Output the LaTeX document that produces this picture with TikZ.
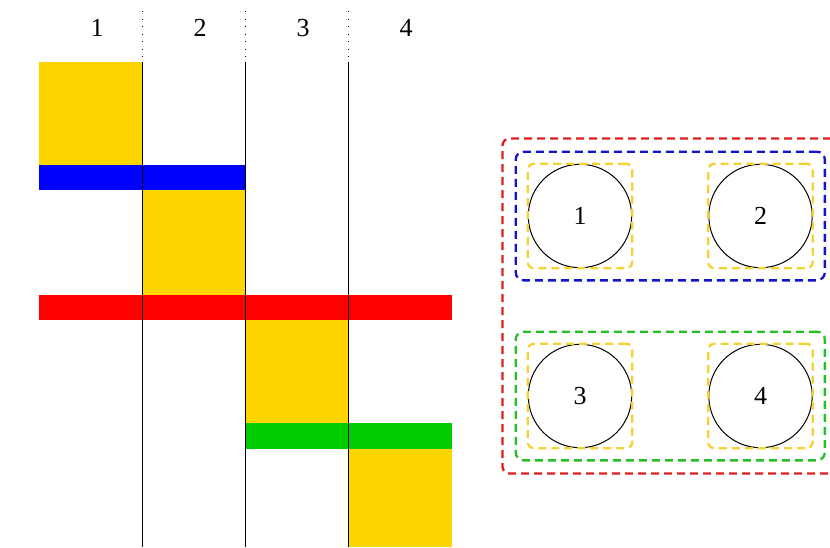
\documentclass[tikz,border=0pt]{standalone}
\usepackage{fontspec}
\setmainfont{Liberation Serif}
\usetikzlibrary{fit}
\definecolor{fillyellow}{RGB}{255,213,0}
\definecolor{fillblue}{RGB}{0,0,255}
\definecolor{fillred}{RGB}{255,0,0}
\definecolor{fillgreen}{RGB}{0,204,0}
\definecolor{dashred}{RGB}{220,30,30}
\definecolor{dashblue}{RGB}{20,20,200}
\definecolor{dashgreen}{RGB}{40,190,40}
\definecolor{dashyellow}{RGB}{245,210,50}
\tikzset{
  lbl/.style={font=\fontsize{26}{30}\selectfont, inner sep=0pt},
  colline/.style={draw=black, line width=1.1pt},
  coldots/.style={draw=black, line width=1.2pt, dash pattern=on 1.2pt off 6.3pt},
  ball/.style={circle, draw=black, line width=1pt, minimum size=103.4pt, inner sep=0pt, font=\fontsize{26}{30}\selectfont},
  grp/.style={draw, line width=2.3pt, dash pattern=on 8pt off 5pt},
  ybox/.style={grp, draw=dashyellow, rounded corners=6pt, inner sep=0pt},
  bbox/.style={grp, rounded corners=8pt, inner sep=11pt},
  rbox/.style={grp, draw=dashred, rounded corners=7pt, inner sep=12pt},
}
\begin{document}
\begin{tikzpicture}[x=1pt,y=-1pt]
\useasboundingbox (0,0) rectangle (830,547);
\begin{scope}
\clip (0,0) rectangle (830,547);
% left: blocks
\fill[fillyellow] (39,62) rectangle (142.3,165);
\fill[fillyellow] (142.3,190) rectangle (245.3,295);
\fill[fillyellow] (245.3,320) rectangle (348.3,423);
\fill[fillyellow] (348.3,449) rectangle (452,547);
\fill[fillblue] (39,165) rectangle (245.3,190);
\fill[fillred] (39,295) rectangle (452,320);
\fill[fillgreen] (245.3,423) rectangle (452,449);
% column lines
\foreach \i/\x in {a/142.3,b/245.3,c/348.3}{
  \coordinate (top\i) at (\x,11);
  \coordinate (mid\i) at (\x,57);
  \coordinate (beg\i) at (\x,62);
  \coordinate (end\i) at (\x,547);
  \draw[coldots] (top\i) -- (mid\i);
  \draw[colline] (beg\i) -- (end\i);
}
% labels
\node[lbl] (h1) at (97,28) {1};
\node[lbl] (h2) at (200,28) {2};
\node[lbl] (h3) at (303,28) {3};
\node[lbl] (h4) at (406,28) {4};
% right: groups
\node[ball] (c1) at (580,216) {1};
\node[ball] (c2) at (760.5,216) {2};
\node[ball] (c3) at (580,396) {3};
\node[ball] (c4) at (760.5,396) {4};
\node[ybox, fit=(c1)] (y1) {};
\node[ybox, fit=(c2)] (y2) {};
\node[ybox, fit=(c3)] (y3) {};
\node[ybox, fit=(c4)] (y4) {};
\node[bbox, draw=dashblue, fit=(y1)(y2)] (gb) {};
\node[bbox, draw=dashgreen, fit=(y3)(y4)] (gg) {};
\node[rbox, fit=(gb)(gg)] (gr) {};
\end{scope}
\end{tikzpicture}
\end{document}
